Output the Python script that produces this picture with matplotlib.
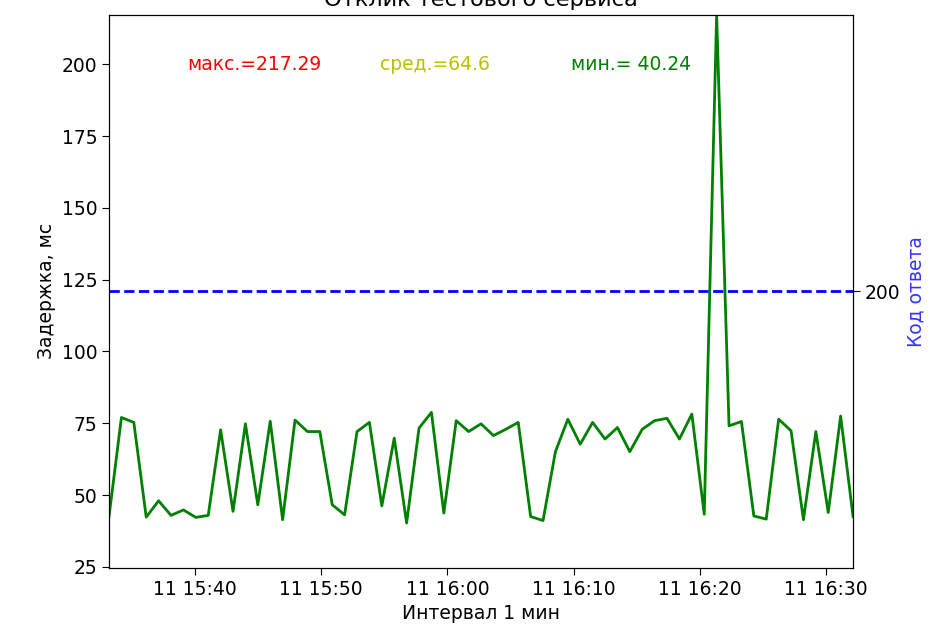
import matplotlib
matplotlib.use("Agg")
import matplotlib.pyplot as plt
import matplotlib.dates as mdates
import pandas as pd

latency = [42.5, 77, 75.3, 42.3, 48, 42.9, 44.8, 42.2, 42.9, 72.7,
           44.3, 74.8, 46.6, 75.7, 41.4, 76.1, 72.1, 72.1, 46.6, 43.1,
           72.1, 75.3, 46.2, 69.8, 40.24, 73.3, 78.8, 43.7, 75.9, 72.1,
           74.8, 70.7, 72.9, 75.3, 42.5, 41.1, 65.1, 76.4, 67.7, 75.3,
           69.5, 73.5, 65.1, 72.9, 75.9, 76.7, 69.5, 78.2, 43.3, 217.29,
           74.1, 75.6, 42.7, 41.6, 76.4, 72.4, 41.4, 72.1, 43.9, 77.5, 42.5]
times = pd.date_range("2024-01-11 15:33:10", periods=len(latency), freq="59s")
code_level = 200
labels = ["макс.=217.29", "сред.=64.6", "мин.= 40.24"]
label_colors = ["red", "y", "green"]
label_x = [0.196, 0.438, 0.702]

plt.rcParams["font.size"] = 13.5
plt.rcParams["xtick.major.size"] = 5
plt.rcParams["ytick.major.size"] = 5
fig = plt.figure(figsize=(9.43, 6.41), dpi=100)
ax = fig.add_axes([0.1156, 0.114, 0.789, 0.863])
ax.plot(times, latency, color="green", lw=2)
ax.set_xlim(times[0], times[-1])
ax.set_ylim(24.6, 217.29)
ax.set_yticks([25, 50, 75, 100, 125, 150, 175, 200])
ax.xaxis.set_major_locator(mdates.MinuteLocator(byminute=range(0, 60, 10)))
ax.xaxis.set_major_formatter(mdates.DateFormatter("%d %H:%M"))
ax.set_xlabel("Интервал 1 мин")
ax.set_ylabel("Задержка, мс")
ax.set_title("Отклик тестового сервиса")
for t, c, x in zip(labels, label_colors, label_x):
    ax.text(x, 200, t, color=c, ha="center", va="center",
            transform=ax.get_yaxis_transform().inverted().__class__ and
            matplotlib.transforms.blended_transform_factory(ax.transAxes, ax.transData))

ax2 = ax.twinx()
ax2.plot([times[0], times[-1]], [code_level, code_level], "b--", lw=2)
ax2.set_ylim(199, 201)
ax2.set_yticks([code_level])
ax2.set_ylabel("Код ответа", color="blue", alpha=0.8)
fig.savefig("out.png", dpi=100)
